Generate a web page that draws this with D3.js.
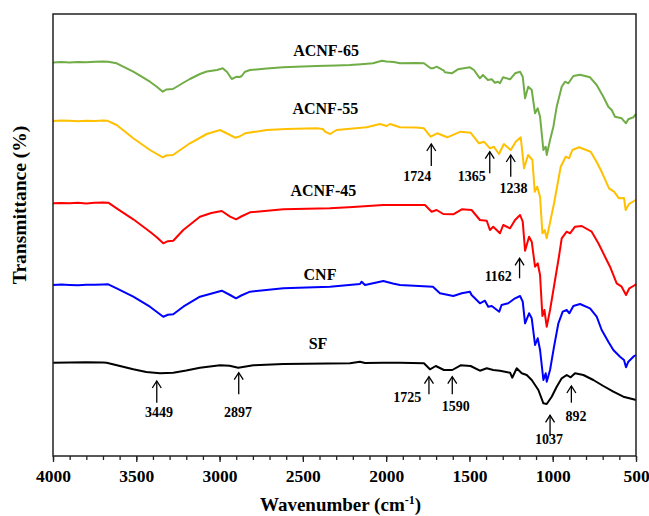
<!DOCTYPE html>
<html>
<head>
<meta charset="utf-8">
<script src="https://cdn.jsdelivr.net/npm/d3@7"></script>
<style>
  body { margin: 0; background: #fff; }
  svg text { font-family: "Liberation Serif", "Times New Roman", serif; font-weight: bold; fill: #000; }
</style>
</head>
<body>
<div id="chart"></div>
<script>
// FTIR spectra: [wavenumber (cm-1), transmittance (offset, a.u.)]
const acnf65 = [
  [4000,393.5],[3950,393.9],[3900,393.6],[3850,394.1],[3800,393.8],[3750,394.3],[3700,394.6],[3668,394.3],
  [3618,392.7],[3518,384.3],[3418,374.3],[3377,369.3],[3341,364.3],[3320,366.5],[3280,367],[3220,373],
  [3178,377],[3118,382],[3077,384.5],[3015,386],[2981,387.7],[2955,384],[2927,377],[2897,379.3],[2880,379],
  [2867,380],[2847,384.3],[2817,386],[2717,387.5],[2619,388.7],[2500,389.5],[2417,390],[2300,390.5],
  [2217,391],[2150,391.8],[2079,392.7],[2025,395.3],[1997,394.5],[1953,394],[1917,392.7],[1820,393],
  [1773,392.7],[1767,392],[1733,387.7],[1719,387.7],[1697,389.3],[1653,385.3],[1647,383.7],[1606,382.7],
  [1569,386.7],[1497,388.7],[1473,386],[1437,377.7],[1419,381],[1389,376],[1366,376.7],[1347,373.3],
  [1329,374.3],[1317,372.7],[1298,378.7],[1256,376.7],[1226,382.7],[1196,384.3],[1180,379.3],[1166,357.7],
  [1147,369.3],[1126,366],[1106,342.7],[1090,347.7],[1076,339.3],[1056,306],[1042,309.3],[1036,301],
  [1016,316],[996,329.3],[976,349.3],[946,369.3],[926,374.3],[906,372.7],[876,380],[836,381.3],[776,378.7],
  [736,371],[696,359.3],[666,349.3],[646,346],[626,339.3],[586,337.7],[560,332.7],[546,336.7],[516,338.7],[500,342]
];
const acnf55 = [
  [4000,335],[3950,335.4],[3900,335.2],[3850,334.8],[3800,335.3],[3750,335.1],[3700,335.6],[3675,335.3],
  [3618,331],[3518,317.7],[3418,306],[3341,298.7],[3320,300.5],[3280,301],[3178,312.7],[3077,322],
  [2997,326],[2937,321],[2907,318.3],[2880,319.5],[2847,322.7],[2717,326],[2600,327],[2417,327.7],
  [2380,327],[2367,324.3],[2337,322],[2297,326],[2200,327.5],[2117,328.7],[2037,332],[1997,330],[1977,332],
  [1917,328.7],[1820,328.5],[1773,327.7],[1733,319.3],[1693,322.7],[1633,318.7],[1553,324.3],[1493,323.3],
  [1443,312.7],[1413,314.3],[1377,307.7],[1353,309.3],[1323,302],[1293,312],[1252,306],[1222,314.3],
  [1192,318.7],[1172,287.7],[1148,301],[1122,296],[1108,264.3],[1093,269.3],[1076,259.3],[1062,222.7],
  [1048,226],[1036,217.7],[992,252.7],[952,289.3],[922,299.3],[902,297.7],[882,306],[842,308.7],[772,304.3],
  [732,292.7],[702,282.7],[662,267.7],[632,264.3],[602,257.7],[572,258],[562,246],[542,252],[502,256],[500,256.3]
];
const acnf45 = [
  [4000,252.7],[3950,253.1],[3900,252.8],[3850,253.3],[3800,252.6],[3750,253.2],[3700,253.4],[3668,253.3],
  [3618,247.7],[3518,236.7],[3418,224.3],[3377,218.7],[3338,212.7],[3310,214.8],[3278,215.3],[3218,226],
  [3118,239.3],[3050,243],[2987,245],[2937,239.3],[2901,236.7],[2870,239.5],[2817,243.7],[2617,246.7],
  [2337,247.7],[2200,249],[2017,251],[1917,251],[1767,251],[1727,244.3],[1697,246],[1657,242],[1597,241.7],
  [1546,246.7],[1487,246],[1437,236],[1396,235.3],[1377,226],[1357,229.3],[1317,222.7],[1297,231],
  [1256,227.7],[1226,236],[1196,241],[1180,234.3],[1166,205.3],[1142,219.3],[1126,214.3],[1106,189.3],
  [1090,192.7],[1076,181],[1062,140],[1050,146],[1036,129.3],[1016,146],[992,170],[962,200],[946,217.7],
  [916,224.3],[896,222.7],[866,229.3],[826,230],[766,224.3],[726,212.7],[686,199.3],[656,189.3],[616,172.7],
  [586,169.3],[560,161],[540,167.7],[506,171],[500,172]
];
const cnf = [
  [4000,171],[3950,171.4],[3900,171.1],[3850,170.8],[3800,171.3],[3750,171.2],[3700,171.6],[3668,171.7],
  [3618,167.7],[3518,159.3],[3418,149.3],[3338,139.3],[3310,141.2],[3278,141.7],[3218,149.3],[3118,159.3],
  [2987,165.3],[2937,161],[2901,157.7],[2870,160.5],[2817,164.3],[2617,167.7],[2337,169.3],[2157,172],
  [2147,174.3],[2127,171],[2037,174.3],[2017,175],[1960,172.5],[1917,171],[1719,169.3],[1677,162.7],
  [1597,160],[1546,162.7],[1497,164.3],[1487,161],[1437,152.7],[1407,155.3],[1387,149.3],[1366,150],
  [1321,144.3],[1307,151],[1267,152.7],[1226,157.7],[1196,160],[1180,154.3],[1166,132.7],[1142,142.7],
  [1126,137.7],[1106,111],[1090,117.7],[1076,106],[1056,76],[1042,82.7],[1036,74.3],[1016,86],[992,109.3],
  [966,132.7],[940,144.3],[916,146],[900,142.7],[876,150],[836,152],[776,147.7],[736,139.3],[706,126],
  [666,114.3],[636,106],[596,99.3],[572,96],[560,88.7],[546,94.3],[516,99.3],[500,101]
];
const sf = [
  [4000,93.3],[3900,93.5],[3800,93.7],[3700,93.4],[3678,93.3],[3598,90],[3518,86.7],[3440,84],[3358,82.7],
  [3278,83.3],[3200,85.5],[3118,88.3],[2997,90.7],[2940,90.2],[2888,88.3],[2797,90.7],[2617,92],[2217,92.7],
  [2157,94.3],[2127,93],[2017,93.3],[1917,93.3],[1773,92.7],[1737,86.7],[1702,90],[1653,86],[1603,86],
  [1553,90.7],[1493,90],[1437,85.3],[1396,87.7],[1357,86],[1317,85.3],[1256,83.3],[1243,78.3],[1216,87.7],
  [1186,82.7],[1156,81],[1126,76],[1086,66],[1056,52.7],[1036,52],[1006,59.3],[976,69.3],[946,77.7],
  [916,81],[892,78.7],[866,82.7],[816,81],[756,76],[696,70],[636,64.3],[576,59.3],[516,56.7],[500,56]
];

const seriesNames  = ["ACNF-65", "ACNF-55", "ACNF-45", "CNF", "SF"];
const seriesData   = [acnf65, acnf55, acnf45, cnf, sf];
const seriesColors = ["#70ad47", "#ffc000", "#ff0000", "#0000ff", "#000000"];
// label anchor for each series name [wavenumber, T]
const seriesLabelPos = [[2361, 406], [2365, 347.7], [2377, 266], [2397, 182], [2409, 112.7]];

const xTicks = [4000, 3500, 3000, 2500, 2000, 1500, 1000, 500];

// peak annotations: label, arrow wavenumber, tip T, tail T, label wavenumber, label T
const peakLabels = ["3449", "2897", "1725", "1590", "1037", "892", "1724", "1365", "1238", "1162"];
const peakArrowX = [3377, 2885, 1743, 1603, 1016, 888, 1729, 1378, 1252, 1199];
const peakTipY   = [75, 83.3, 79.3, 79.3, 40.7, 70, 312, 304.3, 301, 197.7];
const peakTailY  = [53.3, 61.7, 61.7, 61.7, 20, 53.3, 290, 282.7, 279.3, 177.7];
const peakTextX  = [3364, 2889, 1873, 1582, 1022, 860, 1813, 1486, 1235, 1327];
const peakTextY  = [44, 44, 58.3, 49.3, 17, 40, 280, 280, 267.7, 179.3];

const FONT = "'Liberation Serif', 'Times New Roman', serif";

const margin = { top: 14, right: 13, bottom: 60, left: 53 };
const fullW = 649, fullH = 516;
const W = fullW - margin.left - margin.right;
const H = fullH - margin.top - margin.bottom;

const svg = d3.select("#chart").append("svg")
  .attr("width", fullW).attr("height", fullH)
  .attr("font-family", FONT);
const g = svg.append("g").attr("transform", `translate(${margin.left},${margin.top})`);

const x = d3.scaleLinear().domain([4000, 500]).range([0, W]);
const y = d3.scaleLinear().domain([0, 442]).range([H, 0]);

// minor ticks every 100
const minorTicks = d3.range(4000, 499, -100);
g.append("g")
  .attr("transform", `translate(0,${H})`)
  .call(d3.axisBottom(x).tickValues(minorTicks).tickSize(4).tickFormat(""))
  .call(a => a.select(".domain").remove())
  .call(a => a.selectAll("line").attr("stroke", "#222").attr("stroke-width", 1.3));

const xAxisG = g.append("g")
  .attr("transform", `translate(0,${H})`)
  .call(d3.axisBottom(x).tickValues(xTicks).tickSize(6).tickPadding(8).tickFormat(d3.format("d")));
xAxisG.attr("font-family", FONT);
xAxisG.select(".domain").remove();
xAxisG.selectAll("line").attr("stroke", "#222").attr("stroke-width", 1.3);
xAxisG.selectAll("text")
  .style("font-family", FONT)
  .style("font-weight", "bold")
  .style("font-size", "17.5px")
  .attr("fill", "#000");

// spectra
const line = d3.line().x(d => x(d[0])).y(d => y(d[1]));
seriesData.forEach((data, i) => {
  g.append("path")
    .datum(data)
    .attr("fill", "none")
    .attr("stroke", seriesColors[i])
    .attr("stroke-width", 2)
    .attr("stroke-linejoin", "round")
    .attr("d", line);

  g.append("text")
    .attr("x", x(seriesLabelPos[i][0]))
    .attr("y", y(seriesLabelPos[i][1]))
    .attr("text-anchor", "middle")
    .attr("dominant-baseline", "central")
    .style("font-size", "16px")
    .text(seriesNames[i]);
});

// arrows + peak labels
peakLabels.forEach((lab, i) => {
  const ax = x(peakArrowX[i]), ty = y(peakTipY[i]), by = y(peakTailY[i]);
  g.append("line")
    .attr("x1", ax).attr("x2", ax).attr("y1", ty).attr("y2", by)
    .attr("stroke", "#000").attr("stroke-width", 1.3);
  g.append("path")
    .attr("d", `M${ax - 4.5},${ty + 7} L${ax},${ty} L${ax + 4.5},${ty + 7}`)
    .attr("fill", "none").attr("stroke", "#000").attr("stroke-width", 1.3);
  g.append("text")
    .attr("x", x(peakTextX[i]))
    .attr("y", y(peakTextY[i]))
    .attr("text-anchor", "middle")
    .attr("dominant-baseline", "central")
    .style("font-size", "14px")
    .text(lab);
});

// frame
g.append("rect")
  .attr("width", W).attr("height", H)
  .attr("fill", "none").attr("stroke", "#222").attr("stroke-width", 1.5);

// axis titles
const xt = svg.append("text")
  .attr("x", margin.left + W / 2 - 4)
  .attr("y", 511)
  .attr("text-anchor", "middle")
  .style("font-size", "19px");
xt.append("tspan").text("Wavenumber (cm");
xt.append("tspan").attr("dy", -7).style("font-size", "12px").text("-1");
xt.append("tspan").attr("dy", 7).text(")");

svg.append("text")
  .attr("transform", `translate(26,205) rotate(-90)`)
  .attr("text-anchor", "middle")
  .style("font-size", "19.5px")
  .text("Transmittance (%)");
</script>
</body>
</html>
